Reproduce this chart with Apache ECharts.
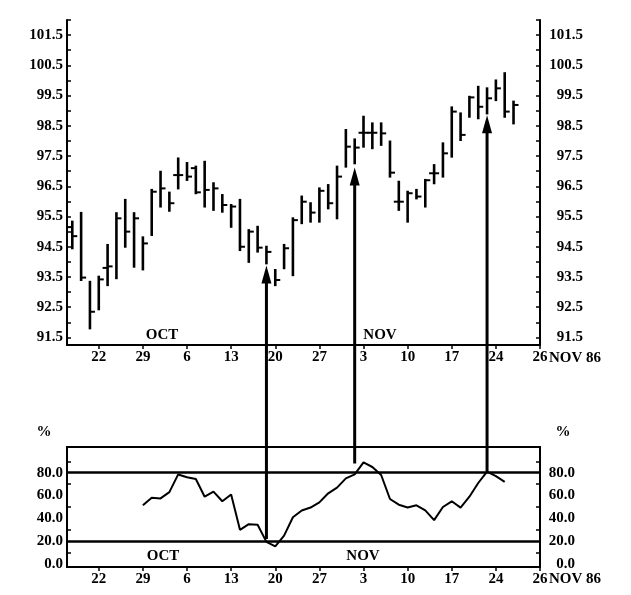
<!DOCTYPE html>
<html><head><meta charset="utf-8">
<script src="https://cdn.jsdelivr.net/npm/echarts@6/dist/echarts.min.js"></script>
<style>html,body{margin:0;padding:0;background:#fff}#c{width:631px;height:595px}</style>
</head><body><div id="c"></div>
<script>
// trading-day index (0 = Mon 22 Sep 1986)
const dayIndex = [-3,-2,-1,0,1,2,3,4,5,6,7,8,9,10,11,12,13,14,15,16,17,18,19,20,21,22,23,24,25,26,27,28,29,30,31,32,33,34,35,36,37,38,39,40,41,42,43,44,45,46,47];
const highs  = [95.33,95.62,93.34,93.51,94.56,95.61,96.05,95.61,94.81,96.38,96.98,96.29,97.42,97.27,97.15,97.31,96.60,96.21,95.88,96.05,95.05,95.16,94.50,93.73,94.56,95.44,96.16,95.94,96.43,96.54,97.15,98.36,98.05,98.80,98.58,98.58,97.98,96.65,96.32,96.38,96.71,97.20,97.92,99.11,98.91,99.46,99.79,99.74,100.00,100.24,99.30];
const lows   = [94.45,93.40,91.80,92.43,93.23,93.46,94.50,93.84,93.75,94.89,95.83,95.69,96.43,96.71,96.27,95.83,95.72,95.66,95.16,94.39,94.00,94.34,93.95,93.23,93.79,93.56,95.28,95.33,95.33,95.77,95.44,97.15,97.26,97.81,97.76,97.87,96.82,95.72,95.33,96.10,95.83,96.60,96.82,97.48,98.03,98.80,98.75,98.91,99.35,98.80,98.58];
const opens  = [95.15,null,null,null,93.80,null,null,null,null,null,null,null,96.87,null,97.10,null,null,null,null,null,null,null,null,null,null,null,null,null,null,null,null,null,null,98.27,98.27,null,null,95.99,null,null,null,96.93,null,null,null,null,null,null,null,null,null];
const closes = [94.85,93.48,92.35,93.42,93.85,95.44,95.00,95.44,94.61,96.32,96.43,95.94,96.87,96.82,96.30,96.38,96.43,95.88,95.83,94.50,95.00,94.47,94.33,93.40,94.45,95.38,95.99,95.63,96.35,95.94,96.82,97.81,97.78,98.27,98.27,98.25,96.95,95.99,96.27,96.16,96.70,96.93,97.59,98.97,98.20,99.44,99.13,99.41,99.74,98.97,99.19];

const oscDays   = [5,6,7,8,9,10,11,12,13,14,15,16,17,18,19,20,21,22,23,24,25,26,27,28,29,30,31,32,33,34,35,36,37,38,39,40,41,42,43,44,45,46];
const oscValues = [51.5,58,57.5,63,78.5,76,74.5,59,63.5,55,61,30,35,34.5,19.5,15.5,25,41,47,49.5,54,62,67,75,78.5,89,85,78,57,52,49.5,51.5,47,38.5,50,55,49.5,59,71,81,77,72];
const refLevels = [80, 20];

const weekTicks  = [0,5,10,15,20,25,30,35,40,45,50];
const weekLabels = ['22','29','6','13','20','27','3','10','17','24','26'];
const priceLabelValues = [91.5,92.5,93.5,94.5,95.5,96.5,97.5,98.5,99.5,100.5,101.5];
const priceTickValues  = [91.5,92,92.5,93,93.5,94,94.5,95,95.5,96,96.5,97,97.5,98,98.5,99,99.5,100,100.5,101,101.5,102];
const pctLabelValues = [0,20,40,60,80];
const pctTickValues  = [10,30,50,70,90];

const arrowDays  = [19, 29, 44];
const arrowTips  = [93.88, 97.12, 98.85];
const arrowBases = [22, 88, 81];

const FONT = '"Liberation Serif", "DejaVu Serif", serif';
const lbl = {color:'#000', fontFamily: FONT, fontWeight:'bold', fontSize:15};

function xAxisDef(gi){
  return {
    type:'value', gridIndex: gi, min:-3.6, max:50,
    axisLine:{show:true, onZero:false, lineStyle:{color:'#000', width:2}},
    axisTick:{show:true, inside:false, length:4, customValues: weekTicks, lineStyle:{color:'#000', width:1.5}},
    axisLabel:Object.assign({customValues: weekTicks, margin:5,
      formatter:(v)=>{const i = weekTicks.indexOf(Math.round(v)); return i>=0 ? weekLabels[i] : '';}}, lbl),
    splitLine:{show:false}
  };
}
function yAxisDef(gi, pos, min, max, labels, ticks, margin, alignRight, digits){
  return {
    type:'value', gridIndex: gi, position: pos, min:min, max:max,
    axisLine:{show:true, onZero:false, lineStyle:{color:'#000', width:2}},
    axisTick:{show:true, inside:true, length:4, customValues: ticks, lineStyle:{color:'#000', width:1.5}},
    axisLabel:Object.assign({customValues: labels, margin: margin, align: alignRight ? 'right' : undefined,
      formatter:(v)=>Number(v).toFixed(digits)}, lbl),
    splitLine:{show:false}
  };
}

const ohlc = dayIndex.map((d,i)=>[d, highs[i], lows[i], opens[i]==null ? '-' : opens[i], closes[i]]);

const option = {
  animation:false,
  backgroundColor:'#fff',
  grid:[
    {left:67, right:91, top:20, bottom:250, show:false},
    {left:67, right:91, top:447, bottom:28, show:true, borderColor:'#000', borderWidth:2}
  ],
  xAxis:[xAxisDef(0), xAxisDef(1)],
  yAxis:[
    yAxisDef(0,'left',91.25,102,priceLabelValues,priceTickValues,4,false,1),
    yAxisDef(0,'right',91.25,102,priceLabelValues,priceTickValues,43,true,1),
    yAxisDef(1,'left',-2.5,102.5,pctLabelValues,pctTickValues,4,false,1),
    yAxisDef(1,'right',-2.5,102.5,pctLabelValues,pctTickValues,35,true,1)
  ],
  series:[
    {
      type:'custom', xAxisIndex:0, yAxisIndex:0, clip:false,
      encode:{x:0, y:[1,2]},
      data: ohlc,
      renderItem:function(params, api){
        const x = api.value(0);
        const hi = api.coord([x, api.value(1)]);
        const lo = api.coord([x, api.value(2)]);
        const o = api.value(3), c = api.value(4);
        const ch = [{type:'line', shape:{x1:hi[0], y1:hi[1]-1, x2:lo[0], y2:lo[1]+1}, style:{stroke:'#000', lineWidth:2.6}}];
        if (o != null && !isNaN(o)) {
          const p = api.coord([x, o]);
          ch.push({type:'line', shape:{x1:p[0]-5, y1:p[1], x2:p[0], y2:p[1]}, style:{stroke:'#000', lineWidth:2}});
        }
        if (c != null && !isNaN(c)) {
          const p = api.coord([x, c]);
          ch.push({type:'line', shape:{x1:p[0], y1:p[1], x2:p[0]+5, y2:p[1]}, style:{stroke:'#000', lineWidth:2}});
        }
        return {type:'group', children: ch};
      }
    },
    {
      type:'line', xAxisIndex:1, yAxisIndex:2,
      data: oscDays.map((d,i)=>[d, oscValues[i]]),
      showSymbol:false, symbol:'none',
      lineStyle:{color:'#000', width:2},
      markLine:{silent:true, symbol:'none', label:{show:false},
        lineStyle:{color:'#000', width:2.5, type:'solid'},
        data: refLevels.map(v=>({yAxis:v}))}
    }
  ]
};

const chart = echarts.init(document.getElementById('c'), null, {renderer:'canvas'});
chart.setOption(option);

const g = [];
arrowDays.forEach((d,i)=>{
  const tip = chart.convertToPixel({seriesIndex:0}, [d, arrowTips[i]]);
  const base = chart.convertToPixel({seriesIndex:1}, [d, arrowBases[i]]);
  g.push({type:'line', z:100, shape:{x1:tip[0], y1:tip[1]+12, x2:base[0], y2:base[1]}, style:{stroke:'#000', lineWidth:3}});
  g.push({type:'polygon', z:100, shape:{points:[[tip[0], tip[1]], [tip[0]-5, tip[1]+18], [tip[0]+5, tip[1]+18]]}, style:{fill:'#000'}});
});
const tf = 'bold 15px ' + FONT;
const texts = [
  ['%', 44, 432, 'center'], ['%', 563, 432, 'center'],
  ['NOV 86', 549, 358, 'left'], ['NOV 86', 549, 579, 'left'],
  ['OCT', 162, 335, 'center'], ['NOV', 380, 335, 'center'],
  ['OCT', 163, 556, 'center'], ['NOV', 363, 556, 'center']
];
texts.forEach(t=>g.push({type:'text', z:100, x:t[1], y:t[2], style:{text:t[0], font:tf, fill:'#000', align:t[3], verticalAlign:'middle'}}));
chart.setOption({graphic: g});
</script>
</body></html>
